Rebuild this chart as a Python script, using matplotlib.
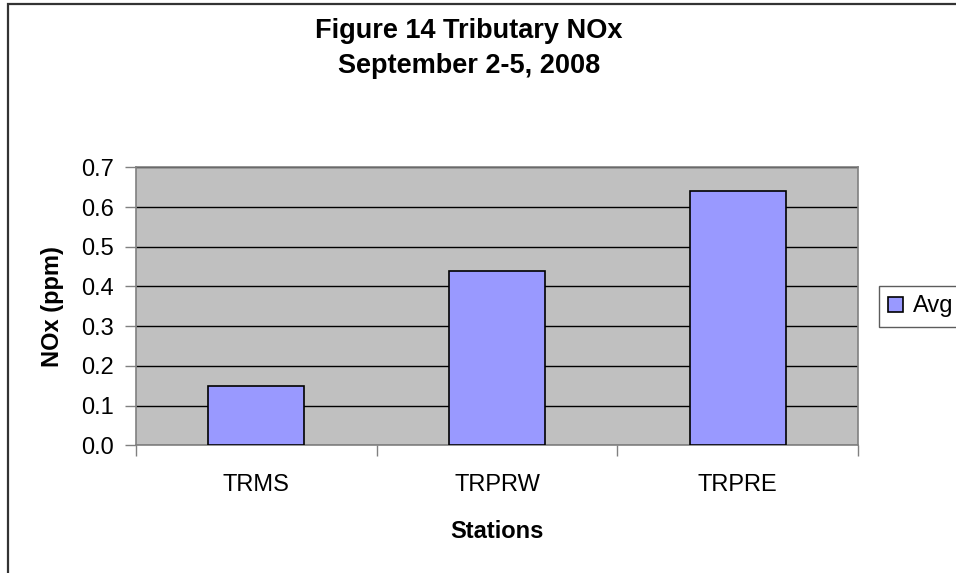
import matplotlib
matplotlib.use("Agg")
import matplotlib.pyplot as plt
from matplotlib.patches import Rectangle

stations = ["TRMS", "TRPRW", "TRPRE"]
avg_nox = [0.15, 0.44, 0.64]
yticks = [0.0, 0.1, 0.2, 0.3, 0.4, 0.5, 0.6, 0.7]
title_lines = ["Figure 14 Tributary NOx", "September 2-5, 2008"]
series_name = "Avg"

plt.rcParams["font.family"] = ["Liberation Sans", "DejaVu Sans"]

W, H = 956, 573
fig = plt.figure(figsize=(W / 100, H / 100), dpi=100)
fig.patch.set_facecolor("white")

# outer chart frame (cut off at right/bottom like the reference)
fig.patches.append(Rectangle((7.5 / W, -0.05), 1.2, 1 - 3.5 / H + 0.05,
                             transform=fig.transFigure, fill=False,
                             edgecolor="#333333", linewidth=1.6))

ax = fig.add_axes([136 / W, 1 - 445.3 / H, (858 - 136) / W, (445.3 - 167.3) / H])
ax.set_facecolor("#C0C0C0")

x = list(range(len(stations)))
bars = ax.bar(x, avg_nox, width=0.4, color="#9999FF", edgecolor="black",
              linewidth=1.2, zorder=3, label=series_name)

ax.set_xlim(-0.5, len(stations) - 0.5)
ax.set_ylim(0, 0.7)
ax.set_yticks(yticks)
ax.set_yticklabels([f"{v:.1f}" for v in yticks], fontsize=17)
ax.yaxis.grid(True, color="black", linewidth=1.0, zorder=1)
ax.set_axisbelow(True)

ax.set_xticks([i - 0.5 for i in range(len(stations) + 1)])
ax.set_xticklabels([])
ax.set_xticks(x, minor=True)
ax.set_xticklabels(stations, minor=True, fontsize=17)
ax.tick_params(axis="x", which="minor", length=0, pad=21)
ax.tick_params(axis="x", which="major", length=8, width=1, color="#808080", direction="out")
ax.tick_params(axis="y", length=8, width=1, color="#808080", direction="out", pad=8)

for s in ax.spines.values():
    s.set_color("#808080")
    s.set_linewidth(1.2)

ax.set_ylabel("NOx (ppm)", fontsize=17, fontweight="bold", labelpad=12)
fig.text(497 / W, 1 - 538 / H, "Stations", ha="center", va="baseline",
         fontsize=17, fontweight="bold")

fig.text(469 / W, 1 - 31 / H, title_lines[0], ha="center", va="center",
         fontsize=19.5, fontweight="bold")
fig.text(469 / W, 1 - 66 / H, title_lines[1], ha="center", va="center",
         fontsize=19.5, fontweight="bold")

leg = fig.legend(handles=[bars], labels=[series_name], loc="upper left",
                 bbox_to_anchor=(879 / W, 1 - 286 / H), fontsize=17,
                 frameon=True, fancybox=False, handlelength=0.6, handleheight=0.6,
                 handletextpad=0.45, borderpad=0.4, borderaxespad=0)
leg.get_frame().set_edgecolor("#333333")
leg.get_frame().set_linewidth(1.0)

fig.savefig("out.png", dpi=100)
